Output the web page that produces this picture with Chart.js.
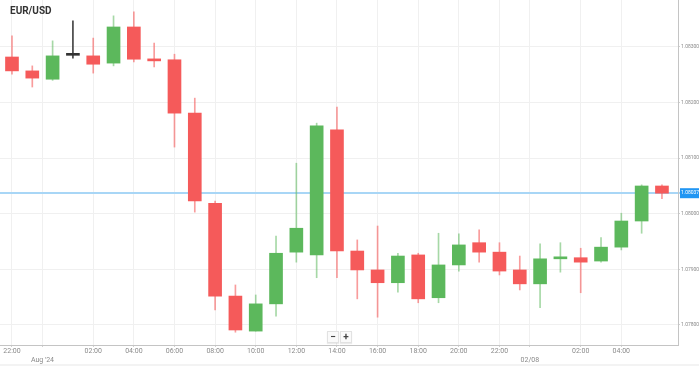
<!DOCTYPE html>
<html>
<head>
<meta charset="utf-8">
<script src="https://cdn.jsdelivr.net/npm/chart.js@4.4.1/dist/chart.umd.min.js"></script>
<style>
  html, body { margin: 0; padding: 0; background: #fff; }
  #wrap { position: relative; width: 699px; height: 366px; font-family: Roboto, "Open Sans", sans-serif; }
  #title { position: absolute; left: 10px; top: 5px; font-size: 10px; font-weight: bold; color: #333; }
  .zbtn { position: absolute; top: 331px; width: 10px; height: 10px; border: 1px solid #e2e2e2; background: #fafafa;
          font-size: 10px; line-height: 10px; text-align: center; color: #444; font-weight: bold; box-shadow: 0 1px 1px rgba(0,0,0,0.08); }
  #bottomband { position: absolute; left: 0; top: 364px; width: 699px; height: 2px; background: #f3f3f3; }
</style>
</head>
<body>
<div id="wrap">
  <canvas id="c" width="699" height="366"></canvas>
  <div id="title">EUR/USD</div>
  <div class="zbtn" style="left:327px">−</div>
  <div class="zbtn" style="left:340px">+</div>
  <div id="bottomband"></div>
</div>
<script>
// hourly candles, 31 Jul 22:00 -> 02 Aug 06:00
const hours = ['22:00','23:00','00:00','01:00','02:00','03:00','04:00','05:00','06:00','07:00','08:00','09:00','10:00','11:00','12:00','13:00','14:00','15:00','16:00','17:00','18:00','19:00','20:00','21:00','22:00','23:00','00:00','01:00','02:00','03:00','04:00','05:00','06:00'];
const opens  = [1.08282,1.08257,1.08242,1.08285,1.08284,1.08271,1.08336,1.08278,1.08277,1.08181,1.08019,1.07852,1.07789,1.07838,1.07931,1.07926,1.08151,1.07933,1.07899,1.07876,1.07926,1.07849,1.07908,1.07948,1.07931,1.07899,1.07874,1.07919,1.07921,1.07915,1.07940,1.07987,1.08050];
const highs  = [1.08320,1.08266,1.08311,1.08347,1.08316,1.08356,1.08363,1.08307,1.08287,1.08208,1.08023,1.07872,1.07854,1.07960,1.08091,1.08163,1.08192,1.07953,1.07978,1.07929,1.07929,1.07965,1.07964,1.07971,1.07948,1.07924,1.07946,1.07948,1.07938,1.07957,1.08001,1.08052,1.08052];
const lows   = [1.08251,1.08228,1.08240,1.08280,1.08253,1.08266,1.08273,1.08264,1.08120,1.08003,1.07827,1.07787,1.07789,1.07816,1.07913,1.07885,1.07885,1.07847,1.07814,1.07859,1.07840,1.07840,1.07897,1.07913,1.07890,1.07863,1.07831,1.07895,1.07858,1.07913,1.07935,1.07965,1.08027];
const closes = [1.08257,1.08244,1.08284,1.08285,1.08269,1.08336,1.08278,1.08275,1.08181,1.08023,1.07852,1.07791,1.07838,1.07929,1.07974,1.08158,1.07933,1.07899,1.07876,1.07924,1.07847,1.07908,1.07944,1.07931,1.07897,1.07874,1.07919,1.07921,1.07913,1.07940,1.07987,1.08050,1.08037];
const currentPrice = 1.08037;
const yTicks = [1.07800, 1.07900, 1.08000, 1.08100, 1.08200, 1.08300];
const xTickPos = [0, 1.5, 4, 6, 8, 10, 12, 14, 16, 18, 20, 22, 24, 25.5, 28, 30];
const xTickLabels = ['22:00', ['', "Aug '24"], '02:00', '04:00', '06:00', '08:00', '10:00', '12:00', '14:00', '16:00', '18:00', '20:00', '22:00', ['', '02/08'], '02:00', '04:00'];

const UP = '#5cb85c', DOWN = '#f55a5a', FLAT = '#333333';
const UPW = 'rgba(92,184,92,0.55)', DOWNW = 'rgba(245,90,90,0.6)', FLATW = '#444444';
const dir = i => closes[i] > opens[i] ? 1 : (closes[i] < opens[i] ? -1 : 0);
const isCur = ctx => !!(ctx.tick && Math.abs(ctx.tick.value - currentPrice) < 1e-9);

const bodyData = hours.map((h, i) => ({ x: i, y: [opens[i], closes[i]] }));
const wickData = hours.map((h, i) => ({ x: i, y: [lows[i], highs[i]] }));

new Chart(document.getElementById('c'), {
  type: 'bar',
  data: {
    datasets: [
      {
        data: bodyData, order: 0, grouped: false, barThickness: 13, minBarLength: 2, borderWidth: 0,
        backgroundColor: ctx => { const d = dir(ctx.dataIndex); return d > 0 ? UP : d < 0 ? DOWN : FLAT; }
      },
      {
        data: wickData, order: 1, grouped: false, barThickness: 1, borderWidth: 0,
        backgroundColor: ctx => { const d = dir(ctx.dataIndex); return d > 0 ? UPW : d < 0 ? DOWNW : FLATW; }
      }
    ]
  },
  options: {
    responsive: false, animation: false, maintainAspectRatio: false,
    layout: { padding: 0 },
    plugins: { legend: { display: false }, tooltip: { enabled: false }, title: { display: false } },
    scales: {
      x: {
        type: 'linear', offset: false, min: -0.59, max: 32.79,
        afterBuildTicks: s => { s.ticks = xTickPos.map(v => ({ value: v })); },
        afterFit: s => { s.height = 21; s.paddingLeft = 0; s.paddingRight = 0; },
        grid: { color: '#f0f0f0', tickLength: 2, offset: false, tickColor: '#d0d0d0' },
        border: { color: '#c4c4c4' },
        ticks: {
          autoSkip: false, maxRotation: 0, padding: 0, color: '#8a8a8a',
          font: { size: 7, family: 'Roboto', lineHeight: 1.25 },
          callback: (v, i) => xTickLabels[i]
        }
      },
      y: {
        position: 'right', min: 1.07764, max: 1.083845,
        afterBuildTicks: s => { s.ticks = yTicks.concat([currentPrice]).map(v => ({ value: v })); },
        afterFit: s => { s.width = 21; s.paddingTop = 0; s.paddingBottom = 0; },
        grid: {
          color: ctx => isCur(ctx) ? 'rgb(168,214,246)' : '#f0f0f0',
          lineWidth: ctx => isCur(ctx) ? 2 : 1,
          tickLength: 2, tickColor: ctx => isCur(ctx) ? 'rgb(168,214,246)' : '#d0d0d0'
        },
        border: { color: '#c4c4c4' },
        ticks: {
          autoSkip: false, padding: 1,
          font: { size: 5, family: 'Roboto' },
          color: ctx => isCur(ctx) ? '#ffffff' : '#8a8a8a',
          showLabelBackdrop: ctx => isCur(ctx),
          backdropColor: '#2196f3',
          backdropPadding: { top: 2, bottom: 2, left: 1, right: 3 },
          callback: v => v.toFixed(5)
        }
      }
    }
  }
});
</script>
</body>
</html>
